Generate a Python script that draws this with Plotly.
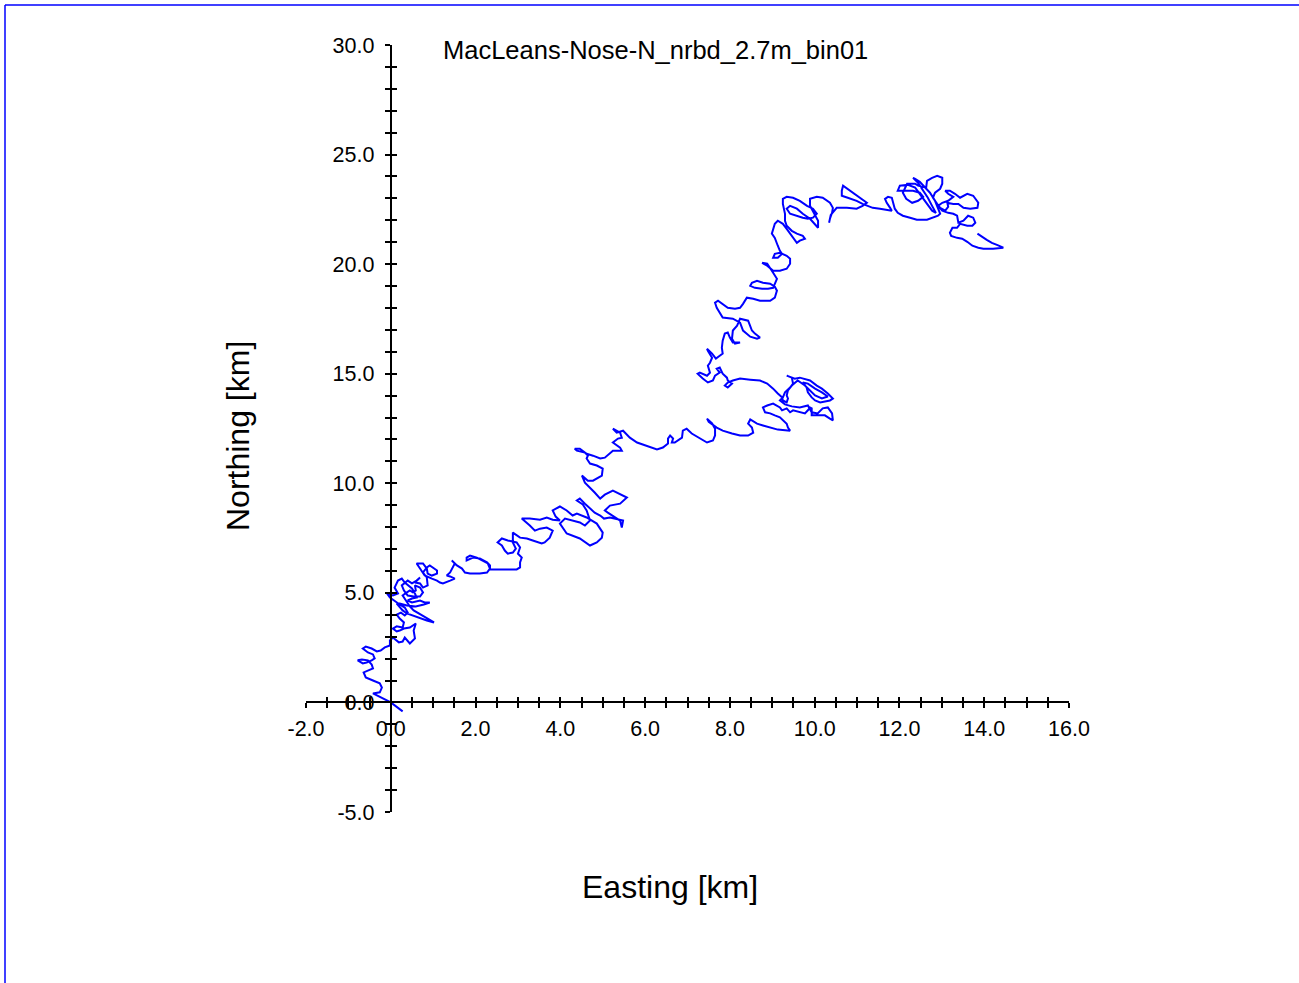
import plotly.graph_objects as go

# Progressive vector track (cumulative displacement), km
east_km = [
    0.28, 0.00, -0.42, -0.26, -0.21, -0.26, -0.42, -0.59, -0.64, -0.54, -0.42, -0.45, -0.54, -0.68, -0.78,
    -0.66, -0.57, -0.45, -0.38, -0.42, -0.54, -0.66, -0.59, -0.45, -0.33, -0.24, -0.14, -0.02, -0.02, 0.05,
    0.12, 0.19, 0.28, 0.33, 0.45, 0.57, 0.54, 0.59, 0.45, 0.31, 0.21, 0.14, 0.05, 0.14, 0.28, 0.31, 0.21,
    0.14, 0.24, 0.33, 0.40, 0.33,
    0.21, 0.09, -0.02, -0.09, 0.05, 0.17, 0.09, 0.17, 0.26, 0.33, 0.40, 0.50, 0.57, 0.61, 0.50, 0.40, 0.50,
    0.69, 0.80, 0.92, 0.78, 0.59, 0.38, 0.21, 0.14, 0.21, 0.28, 0.38, 0.50, 0.69, 0.85, 1.02, 0.87, 0.69,
    0.54, 0.45, 0.35, 0.28, 0.38, 0.45, 0.52, 0.59, 0.57, 0.69, 0.76, 0.69, 0.54, 0.40, 0.31, 0.26, 0.40,
    0.50, 0.61, 0.69,
    0.57, 0.69, 0.76, 0.87, 0.85, 0.76, 0.85, 0.92, 0.99, 1.09, 1.09, 0.97, 0.87, 0.85, 0.76, 0.61, 0.69,
    0.80, 0.97, 1.09, 1.16, 1.23, 1.40, 1.51, 1.40, 1.32, 1.40, 1.46, 1.51, 1.44, 1.56, 1.68, 1.75, 1.87,
    2.10, 2.27, 2.34, 2.29, 2.17, 2.03, 1.87, 1.79, 1.79, 1.94, 2.10, 2.27, 2.34, 2.34, 2.64, 2.97, 3.05,
    3.05, 3.09, 3.00, 3.05, 2.97, 2.76, 2.62, 2.52, 2.62, 2.69, 2.76, 2.88, 2.95, 2.88, 2.88, 3.05, 3.21,
    3.35, 3.56, 3.63, 3.75, 3.82, 3.68, 3.52, 3.40, 3.28, 3.16, 3.09, 3.28, 3.52, 3.68, 3.82, 3.99, 3.89,
    3.82, 3.99, 4.15, 4.29, 4.39, 4.62, 4.86, 5.00, 4.98, 4.86, 4.70, 4.46, 4.15, 3.99, 4.11, 4.29, 4.46,
    4.58, 4.70, 4.62, 4.53, 4.39, 4.46, 4.58, 4.70, 4.81, 4.94, 5.03, 5.17, 5.48, 5.45, 5.41, 5.12, 5.05,
    5.17, 5.41, 5.57, 5.48, 5.24, 5.05, 4.94, 4.81, 4.70, 4.58, 4.51, 4.65, 4.77, 4.98, 5.00, 4.86, 4.70,
    4.62, 4.65, 4.58, 4.39, 4.34, 4.46, 4.62, 4.77, 4.94, 5.05, 5.17, 5.24, 5.45, 5.41, 5.24, 5.36, 5.45,
    5.41, 5.24, 5.33, 5.48, 5.64, 5.81, 6.04, 6.28, 6.42, 6.54, 6.54, 6.59, 6.66, 6.63, 6.70, 6.87, 6.89,
    6.98, 7.10, 7.29, 7.46, 7.60, 7.65, 7.65, 7.58, 7.46, 7.50, 7.69, 7.83, 8.05, 8.24, 8.43, 8.55, 8.52,
    8.43, 8.48,
    8.64, 8.78, 8.95, 9.13, 9.42, 9.37, 9.34, 9.25, 9.18, 9.06, 8.95, 8.83, 8.78, 8.88, 9.02, 9.18, 9.23,
    9.34, 9.42, 9.49, 9.65, 9.77, 9.84, 9.89, 9.93, 9.93, 10.05, 10.24, 10.36, 10.43, 10.41, 10.36, 10.31,
    10.19, 10.07, 9.93, 9.84, 9.65, 9.46, 9.30, 9.18, 9.25, 9.30, 9.42, 9.49, 9.46, 9.34, 9.53, 9.65, 9.89,
    10.05, 10.17, 10.31, 10.43, 10.36, 10.13, 10.01, 9.93, 9.84, 9.81, 9.72, 9.84, 10.01, 10.17, 10.31,
    10.17, 10.01, 9.89, 9.77, 9.60, 9.46, 9.37, 9.34, 9.37, 9.34, 9.25, 9.23, 9.13, 9.02, 8.88, 8.71, 8.48,
    8.24, 8.07, 7.95, 7.88, 7.95, 8.05, 7.95, 7.93, 7.83, 7.76, 7.69, 7.76, 7.65, 7.60, 7.48, 7.36, 7.24,
    7.29, 7.46, 7.53, 7.48, 7.53, 7.58, 7.48, 7.46, 7.58, 7.67, 7.76, 7.83, 7.81, 7.83, 7.88, 7.95, 8.00,
    8.07, 8.24, 8.12, 8.05, 8.07, 8.17, 8.24, 8.43, 8.48, 8.52, 8.59, 8.71, 8.64, 8.48, 8.31, 8.24, 8.07,
    7.83, 7.69, 7.65, 7.72, 7.83, 7.95, 8.12, 8.24, 8.31, 8.40, 8.55, 8.71, 8.95, 9.06, 9.11, 9.06, 8.95,
    8.78, 8.64, 8.52, 8.48, 8.59, 8.76, 8.90, 9.02, 9.11, 9.02, 8.95, 8.88, 8.76, 8.88, 9.02, 9.18, 9.34,
    9.42, 9.42, 9.34, 9.18, 9.06, 9.02, 9.13, 9.23, 9.18, 9.13, 9.11, 9.06, 8.99, 9.02, 9.06, 9.13, 9.25,
    9.34, 9.42, 9.49, 9.58, 9.65, 9.77, 9.72, 9.58, 9.46, 9.34, 9.30, 9.30, 9.25, 9.25, 9.34, 9.49, 9.65,
    9.82, 9.96, 10.05, 9.96, 9.84, 9.72, 9.58, 9.42, 9.34, 9.42, 9.58, 9.72, 9.89, 10.01, 10.08, 10.08,
    10.01, 9.89, 9.89, 10.05, 10.19, 10.36, 10.43, 10.41, 10.36, 10.34, 10.38, 10.52, 10.76, 10.99, 11.13,
    11.23, 11.06, 10.90, 10.76, 10.67, 10.64, 10.64, 10.78, 10.99, 11.13, 11.23, 11.37, 11.54, 11.70,
    11.82, 11.78, 11.70, 11.66, 11.73, 11.82, 11.85, 11.89, 11.96, 12.08, 12.25, 12.41, 12.65, 12.79,
    12.91,
    12.96, 12.91, 12.84, 12.72, 12.60, 12.48, 12.37, 12.32, 12.44, 12.56, 12.67, 12.77, 12.86, 12.77,
    12.63, 12.48, 12.37, 12.20, 12.01, 11.96, 12.13, 12.32, 12.48, 12.56, 12.44, 12.30, 12.16, 12.08,
    12.18, 12.37, 12.44, 12.63, 12.65, 12.77, 12.89, 13.01, 13.01, 12.96, 12.84, 12.79, 12.89, 12.96,
    13.08, 13.15, 13.13, 13.27, 13.39, 13.51, 13.67, 13.84, 13.86, 13.74, 13.60, 13.43, 13.31, 13.19,
    13.08, 13.15, 13.27, 13.15, 13.01, 12.91, 13.01, 13.15, 13.27, 13.36, 13.39, 13.51, 13.62, 13.74,
    13.79, 13.72, 13.60, 13.43, 13.36, 13.25, 13.19, 13.22, 13.36, 13.48, 13.60, 13.72, 13.86, 13.98,
    14.21, 14.45, 14.30, 14.18, 14.06, 13.98, 13.84,
]

north_km = [
    -0.41, 0.00, 0.41, 0.46, 0.68, 0.87, 1.00, 1.14, 1.37, 1.46, 1.55, 1.73, 1.92, 1.96, 1.92,
    1.78, 1.82, 1.92, 2.01, 2.19, 2.28, 2.46, 2.55, 2.46, 2.33, 2.37, 2.51, 2.60, 2.83, 2.96,
    2.83, 2.74, 2.78, 2.96, 2.69, 2.92, 3.28, 3.60, 3.42, 3.37, 3.28, 3.24, 3.37, 3.47, 3.42, 3.65, 3.83,
    4.01, 4.10, 3.97, 4.10, 4.33,
    4.47, 4.65, 4.79, 4.97, 4.88, 4.97, 5.24, 5.56, 5.65, 5.47, 5.34, 5.20, 4.97, 4.79, 4.74, 4.65, 4.56,
    4.65, 4.56, 4.56, 4.47, 4.38, 4.42, 4.51, 4.51, 4.33, 4.20, 4.06, 3.97, 3.83, 3.74, 3.65, 3.83, 4.01,
    4.20, 4.38, 4.65, 4.88, 5.02, 5.11, 5.02, 5.11, 5.34, 5.24, 5.02, 4.83, 4.83, 4.88, 5.11, 5.34, 5.56,
    5.43, 5.56, 5.70,
    5.47, 5.43, 5.24, 5.34, 5.70, 5.93, 6.16, 6.25, 6.16, 6.02, 5.88, 5.79, 5.88, 6.11, 6.34, 6.34, 6.11,
    5.79, 5.65, 5.56, 5.47, 5.43, 5.56, 5.65, 5.75, 5.79, 5.93, 6.16, 6.34, 6.48, 6.25, 6.11, 5.93, 5.88,
    5.88, 5.93, 6.11, 6.34, 6.48, 6.61, 6.70, 6.61, 6.48, 6.61, 6.57, 6.39, 6.25, 6.07, 6.07, 6.07, 6.16,
    6.39, 6.61, 6.79, 7.07, 7.30, 7.39, 7.48, 7.30, 7.16, 6.93, 6.79, 6.84, 7.02, 7.30, 7.75, 7.52, 7.48,
    7.39, 7.25, 7.30, 7.52, 7.84, 7.98, 7.93, 7.84, 8.07, 8.30, 8.39, 8.39, 8.34, 8.44, 8.34, 8.30, 8.48,
    8.76, 8.94, 8.76, 8.53, 8.62, 8.44, 8.16, 7.75, 7.52, 7.30, 7.16, 7.48, 7.71, 8.16, 8.39, 8.30, 8.21,
    8.07, 8.30, 8.76, 9.03, 9.21, 9.30, 9.07, 8.85, 8.66, 8.53, 8.39, 8.44, 8.30, 7.98, 8.30, 8.66, 8.76,
    8.98, 9.07, 9.35, 9.44, 9.67, 9.48, 9.30, 9.58, 9.80, 10.03, 10.35, 10.12, 10.12, 10.35, 10.67, 10.81, 10.90,
    11.13, 11.26, 11.40, 11.49, 11.58, 11.58, 11.35, 11.26, 11.13, 11.17, 11.35, 11.49, 11.49, 11.63, 11.86, 12.04, 12.08,
    12.31, 12.49, 12.31, 12.40, 12.08, 11.86, 11.72, 11.54, 11.63, 11.81, 12.04, 12.18, 12.04, 11.86, 11.86, 12.08, 12.40,
    12.49, 12.27, 12.04, 11.86, 11.95, 12.18, 12.49, 12.73, 12.95, 12.81, 12.54, 12.40, 12.27, 12.18, 12.18, 12.31, 12.54,
    12.72, 12.91,
    12.72, 12.64, 12.54, 12.45, 12.40, 12.54, 12.72, 12.87, 13.01, 13.10, 13.19, 13.24, 13.46, 13.55, 13.64, 13.46, 13.33,
    13.42, 13.24, 13.33, 13.24, 13.19, 13.33, 13.46, 13.42, 13.10, 13.10, 13.10, 12.95, 12.87, 13.19, 13.33, 13.46,
    13.42, 13.19, 13.24, 13.55, 13.46, 13.51, 13.60, 13.78, 13.92, 14.15, 14.37, 14.55, 14.82, 14.91, 14.77, 14.82, 14.69,
    14.46, 14.32, 14.10, 13.87, 13.78, 13.69, 13.78, 13.92, 14.15, 14.37, 14.60, 14.55, 14.32, 14.15, 13.96,
    13.87, 14.01, 14.24, 14.46, 14.69, 14.46, 14.24, 14.01, 13.87, 13.69, 13.78, 13.92, 14.10, 14.32, 14.55, 14.69, 14.73,
    14.78, 14.69, 14.60, 14.46, 14.37, 14.55, 14.69, 14.82, 15.00, 15.28, 15.23, 15.05, 14.91, 14.69, 14.60, 14.78, 15.00,
    15.05, 14.91, 15.05, 15.37, 15.50, 15.73, 16.05, 16.14, 15.92, 15.69, 15.82, 15.92, 16.19, 16.51, 16.83, 16.88, 16.65,
    16.42, 16.42, 16.37, 16.60, 16.97, 17.19, 17.51, 17.42, 17.19, 16.97, 16.83, 16.65, 16.60, 16.69, 16.97, 17.33, 17.51,
    17.56, 18.01, 18.24, 18.33, 18.19, 18.01, 17.97, 18.01, 18.19, 18.47, 18.42, 18.33, 18.33, 18.47, 18.79, 18.97, 19.11,
    19.15, 19.24, 19.15, 19.01, 18.92, 18.88, 18.88, 18.92, 19.33, 19.61, 19.84, 20.02, 20.06, 19.93, 19.70, 19.70, 19.79,
    20.02, 20.25, 20.38, 20.52, 20.47, 20.29, 20.29, 20.47, 20.61, 20.84, 20.97, 21.20, 21.39, 21.61, 21.84, 21.98, 21.84,
    21.61, 21.39, 21.16, 20.97, 21.07, 21.16, 21.29, 21.39, 21.52, 21.75, 21.98, 22.30, 22.75, 22.98, 23.07, 23.03, 22.89,
    22.66, 22.53, 22.30, 22.12, 22.07, 22.12, 22.21, 22.30, 22.53, 22.66, 22.53, 22.30, 22.07, 21.84, 21.66, 21.98,
    22.21, 22.66, 22.98, 23.07, 23.03, 22.80, 22.57, 22.34, 22.07, 21.89, 22.25, 22.57, 22.57, 22.53, 22.66,
    22.80, 23.03, 23.26, 23.44, 23.58, 23.35, 23.12, 23.03, 22.89, 22.75, 22.66, 22.57, 22.53, 22.48,
    22.44, 22.57, 22.80, 22.98, 23.07, 23.03, 22.80, 22.53, 22.34, 22.21, 22.12, 22.03, 22.03, 22.12,
    22.21,
    22.30, 22.53, 22.89, 23.26, 23.53, 23.76, 23.89, 23.94, 23.71, 23.35, 23.03, 22.66, 22.34, 22.44,
    22.80, 23.21, 23.49, 23.62, 23.58, 23.35, 23.35, 23.35, 23.26, 23.07, 22.89, 22.80, 22.98, 23.26,
    23.67, 23.67, 23.58, 23.49, 23.80, 23.94, 24.03, 23.94, 23.67, 23.44, 23.26, 23.03, 22.75, 22.57,
    22.44, 22.62, 22.80, 22.75, 22.75, 22.57, 22.53, 22.57, 22.80, 23.12, 23.21, 23.03, 23.21, 23.35,
    23.35, 23.21, 23.07, 22.89, 22.80, 22.66, 22.44, 22.34, 22.30, 22.21, 21.89, 21.98, 22.21, 22.12,
    21.89, 21.75, 21.75, 21.84, 21.66, 21.66, 21.43, 21.29, 21.20, 21.16, 21.02, 20.84, 20.75, 20.70,
    20.70, 20.75, 20.88, 20.97, 21.11, 21.20, 21.39,
]

# Axis ticks and their labels (plain hyphen for negatives)
x_tickvals = [-2, 0, 2, 4, 6, 8, 10, 12, 14, 16]
x_ticktext = ["-2.0", "0.0", "2.0", "4.0", "6.0", "8.0", "10.0", "12.0", "14.0", "16.0"]
y_tickvals = [-5, 0, 5, 10, 15, 20, 25, 30]
y_ticktext = ["-5.0", "0.0", "5.0", "10.0", "15.0", "20.0", "25.0", "30.0"]

title_text = "MacLeans-Nose-N_nrbd_2.7m_bin01"
x_title = "Easting [km]"
y_title = "Northing [km]"

x_range = [-2.0, 16.0]
y_range = [-5.0, 30.0]

W, H = 1299, 983
L, R, T, B = 306, 230, 45, 171
FONT = "Arial, Liberation Sans, sans-serif"
AX_W = 2

# paper positions of the zero crossings, so the axes cross at the origin
x_axis_pos = (0 - y_range[0]) / (y_range[1] - y_range[0])
y_axis_pos = (0 - x_range[0]) / (x_range[1] - x_range[0])

fig = go.Figure()
fig.add_trace(go.Scatter(
    x=east_km, y=north_km, mode="lines",
    line=dict(color="#0000FF", width=2),
    showlegend=False, hoverinfo="skip",
))
# empty trace so the overlay axes (inner half of the crossing ticks) get drawn
fig.add_trace(go.Scatter(x=[None], y=[None], xaxis="x2", yaxis="y2",
                         showlegend=False, hoverinfo="skip"))

tick_font = dict(family=FONT, size=21.5, color="black")
common = dict(showgrid=False, zeroline=False, ticks="outside", tickcolor="black",
              tickwidth=AX_W, linecolor="black", linewidth=AX_W,
              anchor="free", fixedrange=True, showline=True, ticklen=5, tickfont=tick_font)

fig.update_layout(
    width=W, height=H,
    margin=dict(l=L, r=R, t=T, b=B, pad=0),
    paper_bgcolor="white", plot_bgcolor="white",
    xaxis=dict(range=x_range, tickmode="array", tickvals=x_tickvals, ticktext=x_ticktext,
               position=x_axis_pos, ticklabelstandoff=2,
               minor=dict(dtick=0.5, tick0=0, ticks="outside", ticklen=5, tickcolor="black", tickwidth=AX_W),
               **common),
    yaxis=dict(range=y_range, tickmode="array", tickvals=y_tickvals, ticktext=y_ticktext,
               position=y_axis_pos, ticklabelstandoff=6,
               minor=dict(dtick=1, tick0=0, ticks="outside", ticklen=5, tickcolor="black", tickwidth=AX_W),
               **common),
    xaxis2=dict(range=x_range, tickmode="array", tickvals=x_tickvals, position=x_axis_pos, overlaying="x",
                showline=False, showticklabels=False, showgrid=False, zeroline=False,
                ticks="inside", ticklen=5, tickcolor="black", tickwidth=AX_W, anchor="free",
                minor=dict(dtick=0.5, tick0=0, ticks="inside", ticklen=5, tickcolor="black", tickwidth=AX_W)),
    yaxis2=dict(range=y_range, tickmode="array", tickvals=y_tickvals, position=y_axis_pos, overlaying="y",
                showline=False, showticklabels=False, showgrid=False, zeroline=False,
                ticks="inside", ticklen=5, tickcolor="black", tickwidth=AX_W, anchor="free",
                minor=dict(dtick=1, tick0=0, ticks="inside", ticklen=5, tickcolor="black", tickwidth=AX_W)),
)

pw = W - L - R
ph = H - T - B


def px_to_paper(px, py):
    return (px - L) / pw, (H - B - py) / ph


# page frame (left and top edges)
fx0, fy_top = px_to_paper(5, 5)
fx1, fy_bot = px_to_paper(W, H)
fig.add_shape(type="line", xref="paper", yref="paper", x0=fx0, y0=fy_top, x1=fx1, y1=fy_top,
              line=dict(color="#0000FF", width=1.5))
fig.add_shape(type="line", xref="paper", yref="paper", x0=fx0, y0=fy_top, x1=fx0, y1=fy_bot,
              line=dict(color="#0000FF", width=1.5))

tx, ty = px_to_paper(441, 50)
fig.add_annotation(text=title_text, xref="paper", yref="paper", x=tx, y=ty,
                   xanchor="left", yanchor="middle", showarrow=False,
                   font=dict(family=FONT, size=25.5, color="black"))
ex, ey = px_to_paper(670, 887)
fig.add_annotation(text=x_title, xref="paper", yref="paper", x=ex, y=ey,
                   xanchor="center", yanchor="middle", showarrow=False,
                   font=dict(family=FONT, size=32, color="black"))
nx, ny = px_to_paper(238, 436)
fig.add_annotation(text=y_title, xref="paper", yref="paper", x=nx, y=ny, textangle=-90,
                   xanchor="center", yanchor="middle", showarrow=False,
                   font=dict(family=FONT, size=32, color="black"))

fig.write_html("out.html")
